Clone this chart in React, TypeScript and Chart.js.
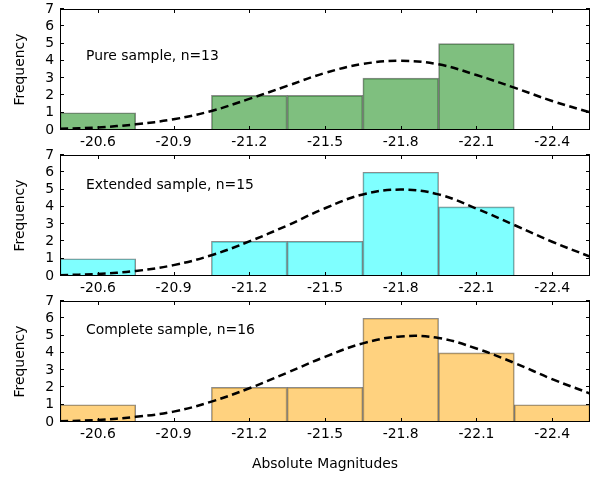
import { useEffect, useRef } from "react";
import { Chart, registerables } from "chart.js";

Chart.register(...registerables);

// Histogram bins (bin centres, 0.3 mag wide) and tick labels
const BIN_CENTERS = [-20.6, -20.9, -21.2, -21.5, -21.8, -22.1, -22.4];
const X_TICKS = [-20.6, -20.9, -21.2, -21.5, -21.8, -22.1, -22.4];
const Y_TICKS = [0, 1, 2, 3, 4, 5, 6, 7];

// Counts per bin for each sample
const PURE_COUNTS = [1, 0, 2, 2, 3, 5, 0];
const EXTENDED_COUNTS = [1, 0, 2, 2, 6, 4, 0];
const COMPLETE_COUNTS = [1, 0, 2, 2, 6, 4, 1];

// Fitted normal curves, sampled along the magnitude axis
const CURVE_X = [-20.45, -20.6, -20.75, -20.9, -21.05, -21.2, -21.35, -21.5, -21.65, -21.8, -21.95, -22.1, -22.25, -22.4, -22.55];
const PURE_CURVE = [0.07, 0.15, 0.33, 0.62, 1.1, 1.8, 2.55, 3.3, 3.82, 4.0, 3.8, 3.18, 2.45, 1.68, 1.02];
const EXTENDED_CURVE = [0.05, 0.12, 0.29, 0.63, 1.2, 2.0, 2.92, 3.92, 4.72, 5.0, 4.72, 3.9, 2.95, 1.98, 1.12];
const COMPLETE_CURVE = [0.04, 0.12, 0.3, 0.6, 1.18, 1.95, 2.85, 3.77, 4.55, 4.95, 4.86, 4.25, 3.42, 2.48, 1.65];

const PANEL_LABELS = ["Pure sample, n=13", "Extended sample, n=15", "Complete sample, n=16"];

const FONT = { family: "'DejaVu Sans'", size: 13.9 };

// Closed frame with inward tick marks on all four sides, plus the panel caption
const framePlugin = {
  id: "frame",
  afterDatasetsDraw(chart: any, _args: any, opts: any) {
    const { ctx, chartArea: a, scales } = chart;
    const xs = scales.x;
    const ys = scales.y;
    const len = 4;
    ctx.save();
    ctx.strokeStyle = "#000";
    ctx.lineWidth = 1;
    ctx.beginPath();
    for (const t of xs.ticks) {
      const px = Math.round(xs.getPixelForValue(t.value)) + 0.5;
      ctx.moveTo(px, a.bottom);
      ctx.lineTo(px, a.bottom - len);
      ctx.moveTo(px, a.top);
      ctx.lineTo(px, a.top + len);
    }
    for (const t of ys.ticks) {
      const py = Math.round(ys.getPixelForValue(t.value)) - 0.5;
      ctx.moveTo(a.left, py);
      ctx.lineTo(a.left + len, py);
      ctx.moveTo(a.right, py);
      ctx.lineTo(a.right - len, py);
    }
    ctx.stroke();
    ctx.strokeRect(a.left + 0.5, a.top + 0.5, a.right - a.left - 1, a.bottom - a.top - 1);

    ctx.fillStyle = "#000";
    ctx.font = `${FONT.size}px ${FONT.family}`;
    ctx.textAlign = "left";
    ctx.textBaseline = "middle";
    ctx.fillText(opts.label, xs.getPixelForValue(opts.textX), ys.getPixelForValue(opts.textY));
    ctx.restore();
  },
};

type PanelProps = {
  top: number;
  height: number;
  axisHeight: number;
  counts: number[];
  curve: number[];
  fill: string;
  label: string;
  textY: number;
  showTitle: boolean;
};

function Panel({ top, height, axisHeight, counts, curve, fill, label, textY, showTitle }: PanelProps) {
  const ref = useRef<HTMLCanvasElement>(null);

  useEffect(() => {
    const bars = BIN_CENTERS.map((x, i) => ({ x, y: counts[i] })).filter((p) => p.y > 0);
    const line = CURVE_X.map((x, i) => ({ x, y: curve[i] }));

    const chart = new Chart(ref.current as HTMLCanvasElement, {
      type: "bar",
      data: {
        datasets: [
          {
            type: "line",
            data: line,
            borderColor: "#000",
            borderWidth: 2.5,
            borderDash: [8, 4.5],
            pointRadius: 0,
            fill: false,
            tension: 0.4,
            order: 1,
          } as any,
          {
            type: "bar",
            data: bars,
            backgroundColor: fill,
            borderColor: "rgba(0,0,0,0.45)",
            borderWidth: 1,
            barPercentage: 1,
            categoryPercentage: 1,
            grouped: false,
            order: 2,
          } as any,
        ],
      },
      options: {
        responsive: false,
        animation: false,
        layout: { padding: { top: 9, right: 19, left: 0, bottom: 0 } },
        plugins: {
          legend: { display: false },
          tooltip: { enabled: false },
          frame: { label, textX: -20.553, textY },
        } as any,
        scales: {
          x: {
            type: "linear",
            reverse: true,
            offset: false,
            min: -22.55,
            max: -20.45,
            afterBuildTicks: (s: any) => {
              s.ticks = X_TICKS.map((v) => ({ value: v }));
            },
            ticks: {
              callback: (v: any) => Number(v).toFixed(1),
              color: "#000",
              font: FONT,
              padding: 4.5,
              maxRotation: 0,
              autoSkip: false,
            },
            grid: { display: false, drawTicks: false, offset: false },
            border: { display: false },
            title: {
              display: showTitle,
              text: "Absolute Magnitudes",
              color: "#000",
              font: FONT,
              padding: { top: 0, bottom: 6.7 },
            },
            afterFit: (s: any) => {
              s.height = axisHeight;
              s.paddingLeft = 0;
              s.paddingRight = 0;
            },
          },
          y: {
            type: "linear",
            min: 0,
            max: 7,
            afterBuildTicks: (s: any) => {
              s.ticks = Y_TICKS.map((v) => ({ value: v }));
            },
            ticks: { color: "#000", font: FONT, padding: 6, autoSkip: false },
            grid: { display: false, drawTicks: false },
            border: { display: false },
            title: {
              display: true,
              text: "Frequency",
              color: "#000",
              font: FONT,
              padding: { top: 11.7, bottom: 0 },
            },
            afterFit: (s: any) => {
              s.width = 60;
              s.paddingTop = 0;
              s.paddingBottom = 0;
            },
          },
        } as any,
      },
      plugins: [framePlugin],
    });
    return () => chart.destroy();
  }, []);

  return (
    <div style={{ position: "absolute", left: 0, top, width: 609, height }}>
      <canvas ref={ref} width={609} height={height} style={{ display: "block" }} />
    </div>
  );
}

export default function App() {
  return (
    <div style={{ position: "fixed", left: 0, top: 0, width: 609, height: 479, background: "#fff" }}>
      <Panel top={0} height={146} axisHeight={16} counts={PURE_COUNTS} curve={PURE_CURVE}
        fill="rgba(0,128,0,0.5)" label={PANEL_LABELS[0]} textY={4.24} showTitle={false} />
      <Panel top={146} height={146} axisHeight={16} counts={EXTENDED_COUNTS} curve={EXTENDED_CURVE}
        fill="rgba(0,255,255,0.5)" label={PANEL_LABELS[1]} textY={5.26} showTitle={false} />
      <Panel top={292} height={187} axisHeight={57} counts={COMPLETE_COUNTS} curve={COMPLETE_CURVE}
        fill="rgba(255,165,0,0.5)" label={PANEL_LABELS[2]} textY={5.28} showTitle={true} />
    </div>
  );
}
